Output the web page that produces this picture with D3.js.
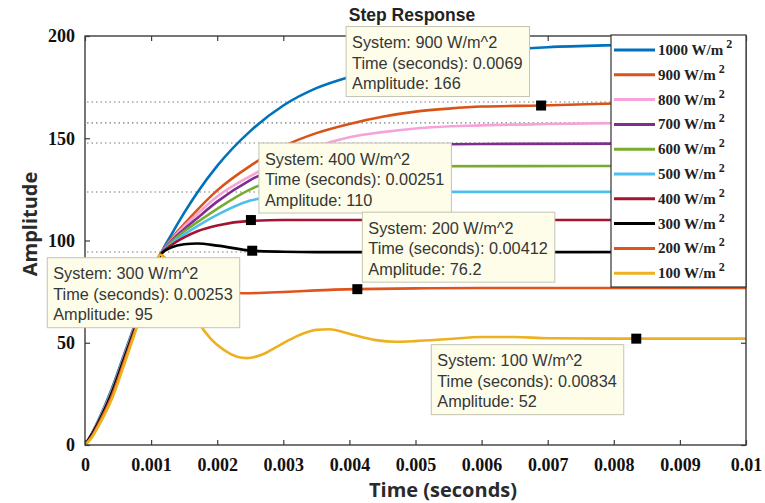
<!DOCTYPE html>
<html>
<head>
<meta charset="utf-8">
<script src="https://cdn.jsdelivr.net/npm/d3@7"></script>
<style>
  body { margin: 0; background: #fff; }
  svg { display: block; }
</style>
</head>
<body>
<svg id="chart" width="765" height="503"></svg>
<script>
// ---- data ----
const seriesNames = ["1000", "900", "800", "700", "600", "500", "400", "300", "200", "100"];
const seriesColors = ["#0072BD", "#D95319", "#F5A3D8", "#7E2F8E", "#77AC30", "#4DBEEE", "#A2142F", "#000000", "#E0531C", "#EDB120"];

// step responses, [time (s), amplitude]
const resp1000 = [[0,0],[0.0001,5.5],[0.0002,12],[0.0004,27],[0.0006,45],[0.0008,63],[0.001,81],[0.00114,93],
  [0.0013,102.5],[0.0015,113.5],[0.0017,123.5],[0.002,136.5],[0.0025,153.5],[0.003,166],[0.0035,174.5],[0.004,180],
  [0.0045,184],[0.005,187.5],[0.0055,190],[0.006,192],[0.0065,193.5],[0.007,194.5],[0.008,195.5],[0.009,196],[0.01,196]];
const resp900 = [[0,0],[0.0001,5],[0.0002,11.5],[0.0004,26],[0.0006,44],[0.0008,62],[0.001,80.5],[0.00114,93],
  [0.0013,100.5],[0.0015,108],[0.0017,115],[0.002,124.5],[0.0025,136.5],[0.003,146],[0.0035,152.5],[0.004,157],
  [0.0045,160.5],[0.005,163],[0.0055,164.5],[0.006,165.5],[0.0069,166],[0.008,167],[0.009,167.5],[0.01,167.7]];
const resp800 = [[0,0],[0.0001,5],[0.0002,11.5],[0.0004,26],[0.0006,44],[0.0008,62],[0.001,80.5],[0.00114,93],
  [0.0013,100],[0.0015,107],[0.0017,113],[0.002,121.5],[0.0025,131.5],[0.003,139.5],[0.0035,146],[0.004,150.5],
  [0.0045,153],[0.005,154.8],[0.006,156.3],[0.007,157],[0.008,157.4],[0.01,157.6]];
const resp700 = [[0,0],[0.0001,5],[0.0002,11],[0.0004,25.5],[0.0006,43.5],[0.0008,61.5],[0.001,80],[0.00114,93],
  [0.0013,99.5],[0.0015,105.5],[0.0017,111],[0.002,119],[0.0025,129.5],[0.003,137],[0.0035,142],[0.004,144.5],
  [0.0045,146],[0.005,146.8],[0.006,147.2],[0.01,147.5]];
const resp600 = [[0,0],[0.0001,5],[0.0002,11],[0.0004,25.5],[0.0006,43.5],[0.0008,61.5],[0.001,80],[0.00114,93],
  [0.0013,99],[0.0015,104.5],[0.0017,109],[0.002,115.5],[0.0025,125],[0.003,131],[0.0035,134],[0.004,135.5],
  [0.005,136.3],[0.01,136.5]];
const resp500 = [[0,0],[0.0001,5],[0.0002,11],[0.0004,25.5],[0.0006,43.5],[0.0008,61.5],[0.001,80],[0.00114,93],
  [0.0013,98],[0.0015,103],[0.0017,107],[0.002,112.5],[0.0025,119.5],[0.003,122],[0.0035,123.2],[0.004,123.6],
  [0.005,123.8],[0.01,123.8]];
const resp400 = [[0,0],[0.0001,4.5],[0.0002,10.5],[0.0004,25],[0.0006,43],[0.0008,61],[0.001,80],[0.00114,93],
  [0.0013,97.5],[0.0015,101.5],[0.0017,104.5],[0.002,107.3],[0.0025,109.6],[0.003,110],[0.01,110]];
const resp300 = [[0,0],[0.0001,5],[0.0002,11],[0.0004,25],[0.0006,43],[0.0008,61],[0.001,80],[0.00114,93],
  [0.0013,96.5],[0.0015,98.2],[0.0017,98.5],[0.002,97.5],[0.00253,95],[0.003,94.5],[0.0035,94.3],[0.01,94.4]];
const resp200 = [[0,0],[0.0001,4],[0.0002,10],[0.0004,23.5],[0.0006,41.5],[0.0008,60],[0.001,79.5],[0.00114,93],
  [0.0013,88],[0.0015,82],[0.0017,78],[0.002,75],[0.0024,74.2],[0.003,74.8],[0.0035,75.6],[0.00412,76.2],
  [0.005,76.6],[0.006,76.8],[0.01,76.8]];
const resp100 = [[0,0],[0.0001,3.5],[0.0002,9],[0.0004,22],[0.0006,40],[0.0008,59],[0.001,79],[0.00114,93],
  [0.0013,87],[0.0015,75],[0.0017,61],[0.0019,52],[0.0021,46.5],[0.0023,43.2],[0.00245,42.5],[0.0027,44.5],
  [0.0029,48],[0.0031,51.5],[0.0033,54.5],[0.0035,56.3],[0.0037,56.6],[0.0039,55.3],[0.0041,53.5],[0.0044,51.3],
  [0.0047,50.5],[0.005,50.8],[0.0055,51.8],[0.006,52.8],[0.0065,52.8],[0.007,52.2],[0.008,52],[0.009,52],[0.01,52]];
const responses = [resp1000, resp900, resp800, resp700, resp600, resp500, resp400, resp300, resp200, resp100];

// steady-state reference levels (dotted)
const steadyLevels = [167.7, 157.5, 147.7, 123.7, 94.4];

// data tips: system, time, amplitude
const tipSystems = ["900 W/m^2", "400 W/m^2", "200 W/m^2", "300 W/m^2", "100 W/m^2"];
const tipTimes = ["0.0069", "0.00251", "0.00412", "0.00253", "0.00834"];
const tipAmps = ["166", "110", "76.2", "95", "52"];

const xTicks = [0, 0.001, 0.002, 0.003, 0.004, 0.005, 0.006, 0.007, 0.008, 0.009, 0.01];
const xTickLabels = ["0", "0.001", "0.002", "0.003", "0.004", "0.005", "0.006", "0.007", "0.008", "0.009", "0.01"];
const yTicks = [0, 50, 100, 150, 200];
const yTickLabels = ["0", "50", "100", "150", "200"];

// ---- layout ----
const svg = d3.select("#chart");
const L = 85, R = 746, T = 36, B = 445;
const x = d3.scaleLinear().domain([0, 0.01]).range([L, R]);
const y = d3.scaleLinear().domain([0, 200]).range([B, T]);

const axisColor = "#3c3c3c";
const serif = "'Liberation Serif', 'Times New Roman', serif";
const sans = "'Liberation Sans', Arial, sans-serif";

svg.append("defs").append("clipPath").attr("id", "plotclip")
  .append("rect").attr("x", L).attr("y", T).attr("width", R - L).attr("height", B - T);

// dotted steady-state lines
svg.append("g").selectAll("line").data(steadyLevels).join("line")
  .attr("x1", L + 2).attr("x2", R)
  .attr("y1", d => y(d)).attr("y2", d => y(d))
  .attr("stroke", "#7a7a7a").attr("stroke-width", 1.1)
  .attr("stroke-dasharray", "1.5,3");

// response curves (last drawn on top)
const line = d3.line().x(d => x(d[0])).y(d => y(d[1])).curve(d3.curveMonotoneX);
const curveG = svg.append("g").attr("clip-path", "url(#plotclip)");
responses.forEach((r, i) => {
  curveG.append("path").datum(r)
    .attr("d", line)
    .attr("fill", "none")
    .attr("stroke", seriesColors[i])
    .attr("stroke-width", 2.6)
    .attr("stroke-linejoin", "round");
});

// axes
function styleAxis(g, withText) {
  g.select(".domain").remove();
  g.selectAll(".tick line").attr("stroke", axisColor).attr("stroke-width", 1.2);
  if (withText) {
    g.selectAll(".tick text").attr("fill", "#111").attr("font-family", serif)
      .attr("font-weight", "bold").attr("font-size", 18);
  } else {
    g.selectAll(".tick text").remove();
  }
}
svg.append("g").attr("transform", `translate(0,${B})`)
  .call(d3.axisBottom(x).tickValues(xTicks).tickFormat((d, i) => xTickLabels[i]).tickSize(-5).tickPadding(13))
  .call(g => styleAxis(g, true));
svg.append("g").attr("transform", `translate(0,${T})`)
  .call(d3.axisTop(x).tickValues(xTicks).tickSize(-5))
  .call(g => styleAxis(g, false));
svg.append("g").attr("transform", `translate(${L},0)`)
  .call(d3.axisLeft(y).tickValues(yTicks).tickFormat((d, i) => yTickLabels[i]).tickSize(-5).tickPadding(10))
  .call(g => styleAxis(g, true));
svg.append("g").attr("transform", `translate(${R},0)`)
  .call(d3.axisRight(y).tickValues(yTicks).tickSize(-5))
  .call(g => styleAxis(g, false));

svg.append("rect").attr("x", L).attr("y", T).attr("width", R - L).attr("height", B - T)
  .attr("fill", "none").attr("stroke", axisColor).attr("stroke-width", 1.4);

// title and axis labels
svg.append("text").attr("x", 412).attr("y", 21).attr("text-anchor", "middle")
  .attr("font-family", sans).attr("font-weight", "bold").attr("font-size", 17.5)
  .attr("fill", "#222").text("Step Response");
svg.append("text").attr("x", 443).attr("y", 497).attr("text-anchor", "middle")
  .attr("font-family", "'Open Sans', sans-serif").attr("font-weight", "bold").attr("font-size", 20)
  .attr("fill", "#2a2a2a").text("Time (seconds)");
svg.append("text").attr("transform", "translate(37,224) rotate(-90)").attr("text-anchor", "middle")
  .attr("font-family", "'Open Sans', sans-serif").attr("font-weight", "bold").attr("font-size", 20)
  .attr("fill", "#2a2a2a").text("Amplitude");

// legend
const legX = 611, legY = 35, legW = 135, legH = 252, rowH = 24.8;
const leg = svg.append("g");
leg.append("rect").attr("x", legX).attr("y", legY).attr("width", legW).attr("height", legH)
  .attr("fill", "#fff").attr("stroke", "#333").attr("stroke-width", 1.2);
seriesNames.forEach((name, i) => {
  const cy = legY + 15 + i * rowH;
  leg.append("line").attr("x1", legX + 3).attr("x2", legX + 44).attr("y1", cy).attr("y2", cy)
    .attr("stroke", seriesColors[i]).attr("stroke-width", 3);
  const t = leg.append("text").attr("x", legX + 47).attr("y", cy + 5)
    .attr("font-family", serif).attr("font-weight", "bold").attr("font-size", 15).attr("fill", "#222");
  t.append("tspan").text(name + " W/m");
  t.append("tspan").attr("dx", 3).attr("dy", -7).attr("font-size", 12).text("2");
});

// data tips: marker + annotation box
const tipOffsets = [[-195, -79], [8, -77], [5, -77], [-205, 7], [-205, 6]];
tipSystems.forEach((sys, i) => {
  const px = x(+tipTimes[i]), py = y(+tipAmps[i]);
  svg.append("rect").attr("x", px - 5).attr("y", py - 5).attr("width", 10).attr("height", 10)
    .attr("fill", "#000");
  const bx = px + tipOffsets[i][0], by = py + tipOffsets[i][1];
  const g = svg.append("g");
  const box = g.append("rect").attr("x", bx).attr("y", by).attr("height", 70)
    .attr("fill", "#fdfde9").attr("stroke", "#c4c4b4").attr("stroke-width", 1);
  const lines = ["System: " + sys, "Time (seconds): " + tipTimes[i], "Amplitude: " + tipAmps[i]];
  let maxW = 0;
  lines.forEach((s, k) => {
    const tx = g.append("text").attr("x", bx + 6).attr("y", by + 21.5 + k * 20.5)
      .attr("font-family", sans).attr("font-size", 16.3).attr("fill", "#363636").text(s);
    maxW = Math.max(maxW, tx.node().getComputedTextLength());
  });
  box.attr("width", maxW + 13);
});
</script>
</body>
</html>
